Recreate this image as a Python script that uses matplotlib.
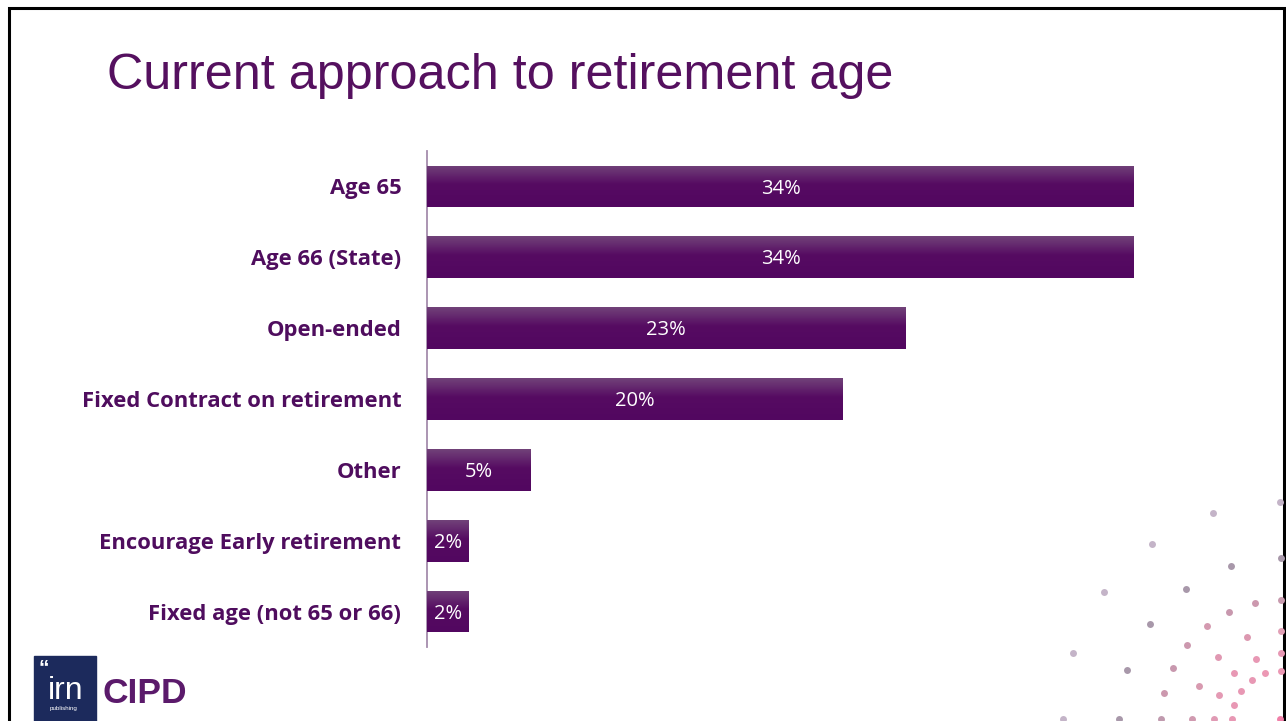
import numpy as np
import matplotlib.pyplot as plt
from matplotlib.colors import LinearSegmentedColormap
from matplotlib.patches import Rectangle

categories = ["Age 65", "Age 66 (State)", "Open-ended", "Fixed Contract on retirement",
              "Other", "Encourage Early retirement", "Fixed age (not 65 or 66)"]
values = [34, 34, 23, 20, 5, 2, 2]
value_labels = ["34%", "34%", "23%", "20%", "5%", "2%", "2%"]

title = "Current approach to retirement age"
purple = "#52095e"

W, H = 1286, 721
fig = plt.figure(figsize=(W / 100, H / 100), dpi=100)
fig.patch.set_facecolor("white")


def px(x, y, w, h):
    # pixel box (top-left origin) -> figure fraction
    return [x / W, 1 - (y + h) / H, w / W, h / H]


# slide frame
frame = fig.add_axes([0, 0, 1, 1], zorder=-5)
frame.set_xlim(0, W)
frame.set_ylim(H, 0)
frame.axis("off")
frame.plot([9, 9, 1284, 1284], [730, 8, 8, 730], color="black", lw=2.2,
           solid_joinstyle="miter")

fig.text(107 / W, 1 - 89 / H, title, fontsize=36.3, color="#55105f",
         family="Liberation Sans", va="baseline", ha="left")

ax = fig.add_axes(px(427, 151, 707, 496))
y = np.arange(len(categories))
bars = ax.barh(y, values, height=0.59, color=purple, zorder=2)

# vertical gradient inside each bar: lighter top edge fading into deep purple
cmap = LinearSegmentedColormap.from_list("bar", [(0, "#714279"), (0.45, "#560b62"), (1, "#520760")])
grad = np.linspace(0, 1, 64).reshape(-1, 1)
for bar in bars:
    x0, y0 = bar.get_x(), bar.get_y()
    im = ax.imshow(grad, cmap=cmap, aspect="auto", interpolation="bilinear",
                   extent=[x0, x0 + bar.get_width(), y0 + bar.get_height(), y0], zorder=3)
    im.set_clip_path(bar)
ax.set_xlim(0, 34)
ax.set_ylim(len(categories) - 0.5, -0.5)

for yi, v, lab in zip(y, values, value_labels):
    ax.text(v / 2, yi + 0.03, lab, color="white", fontsize=14.5, family="Open Sans",
            ha="center", va="center", zorder=4)

ax.set_yticks(y)
ax.set_yticklabels(categories, fontsize=15.8, fontweight="bold", color="#4f0d5e", family="Open Sans")
ax.tick_params(axis="y", length=0, pad=18.5)
ax.set_xticks([])
for s in ["top", "right", "bottom"]:
    ax.spines[s].set_visible(False)
ax.spines["left"].set_color("#a58cac")
ax.spines["left"].set_linewidth(1.3)
ax.set_facecolor("none")

# logos
logo = fig.add_axes([0, 0, 1, 1], zorder=5)
logo.set_xlim(0, W)
logo.set_ylim(H, 0)
logo.axis("off")
logo.add_patch(Rectangle((34, 656), 62, 70, color="#1c2a5c"))
logo.text(39, 673, "\u201c", color="white", fontsize=15, family="Liberation Sans",
          fontweight="bold", va="baseline")
logo.text(66, 699, "irn", color="white", fontsize=23, family="Liberation Sans",
          ha="center", va="baseline")
logo.text(64, 710, "publishing", color="white", fontsize=4.5, family="Liberation Sans",
          ha="center", va="baseline")
logo.text(102, 703, "CIPD", color="#5b1a6b", fontsize=25.5, family="Liberation Sans",
          fontweight="bold", ha="left", va="baseline")

# scatter of decorative dots, lavender-grey fading to pink
dots = [(1280, 502, "#c4b4c8"), (1213, 513, "#c4b4c8"), (1152, 544, "#c4b4c8"),
        (1281, 558, "#a898aa"), (1231, 566, "#a898aa"), (1104, 592, "#c4b4c8"),
        (1186, 589, "#a898aa"), (1281, 600, "#c89aae"), (1255, 603, "#cc98ae"),
        (1229, 612, "#c898ae"), (1150, 624, "#a898aa"), (1207, 626, "#d49ab0"),
        (1281, 631, "#e2a0b6"), (1247, 637, "#dc98b0"), (1187, 645, "#cc98ae"),
        (1073, 653, "#c4b4c8"), (1218, 657, "#e098b2"), (1256, 659, "#e898b4"),
        (1281, 653, "#e898b4"), (1127, 670, "#a898aa"), (1173, 668, "#c898ae"),
        (1234, 673, "#e898b4"), (1265, 673, "#ec98b4"), (1281, 671, "#ec98b4"),
        (1252, 680, "#e898b4"), (1199, 686, "#d89ab0"), (1164, 693, "#cc98ae"),
        (1219, 695, "#e49ab4"), (1241, 691, "#e898b4"), (1234, 705, "#e898b4"),
        (1063, 719, "#c4b4c8"), (1119, 719, "#a898aa"), (1161, 719, "#c09aae"),
        (1192, 719, "#d09ab0"), (1214, 719, "#e09ab4"), (1232, 719, "#e898b4"),
        (1280, 719, "#f080a8")]
for dx, dy, c in dots:
    logo.plot(dx, dy, "o", ms=5, color=c, mec="none")

fig.savefig("out.png", dpi=100, facecolor="white")
